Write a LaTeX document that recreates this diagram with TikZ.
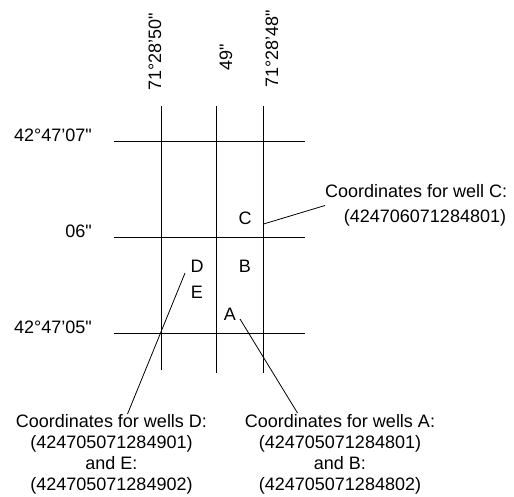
\documentclass[tikz,border=0pt]{standalone}
\usepackage{fontspec}
\setmainfont{Liberation Sans}[Ligatures=TeXOff]
\begin{document}
\begin{tikzpicture}[x=1pt,y=-1pt,
  lbl/.style={inner sep=0pt,font=\fontsize{18}{21}\selectfont},
  gridline/.style={line width=0.9pt},
  callout/.style={line width=0.8pt},
  blk/.style={lbl,align=center}]
\useasboundingbox (0,0) rectangle (514,496);
% grid coordinates
\coordinate (v1t) at (161.5,106);
\coordinate (v1b) at (161.5,370);
\coordinate (v2t) at (216,106);
\coordinate (v2b) at (216,373);
\coordinate (v3t) at (263.5,106);
\coordinate (v3b) at (263.5,373);
\coordinate (h1l) at (114,141.5);
\coordinate (h1r) at (305,141.5);
\coordinate (h2l) at (114,237);
\coordinate (h2r) at (305,237);
\coordinate (h3l) at (114,333);
\coordinate (h3r) at (305,333);
\draw[gridline] (v1t) -- (v1b);
\draw[gridline] (v2t) -- (v2b);
\draw[gridline] (v3t) -- (v3b);
\draw[gridline] (h1l) -- (h1r);
\draw[gridline] (h2l) -- (h2r);
\draw[gridline] (h3l) -- (h3r);
% top labels
\node[lbl,rotate=90] (lon1) at (155,52) {71°28’50"};
\node[lbl,rotate=90] (lon2) at (226,57.5) {49"};
\node[lbl,rotate=90] (lon3) at (272,49) {71°28’48"};
% left labels
\node[lbl,anchor=east] (lat1) at (92,135) {42°47’07"};
\node[lbl,anchor=east] (lat2) at (92,231.5) {06"};
\node[lbl,anchor=east] (lat3) at (92,327) {42°47’05"};
% wells
\node[lbl] (C) at (245,218) {C};
\node[lbl] (D) at (197,266) {D};
\node[lbl] (B) at (245,266) {B};
\node[lbl] (E) at (197,292) {E};
\node[lbl] (A) at (230,314) {A};
% callout C
\node[lbl,anchor=west] (ct) at (325,191.5) {Coordinates for well C:};
\node[lbl] (cn) at (425,218) {(424706071284801)};
\coordinate (cs) at (263.5,224);
\coordinate (ce) at (325,205.5);
\draw[callout] (cs) -- (ce);
% callout D/E
\node[blk,anchor=north] (de) at (111.5,414) {Coordinates for wells D:\\(424705071284901)\\and E:\\(424705071284902)};
\coordinate (ds) at (185,273);
\coordinate (dend) at (127.5,414);
\draw[callout] (ds) -- (dend);
% callout A/B
\node[blk,anchor=north] (ab) at (340,414) {Coordinates for wells A:\\(424705071284801)\\and B:\\(424705071284802)};
\coordinate (as) at (240,319);
\coordinate (aend) at (297.5,413);
\draw[callout] (as) -- (aend);
\end{tikzpicture}
\end{document}
